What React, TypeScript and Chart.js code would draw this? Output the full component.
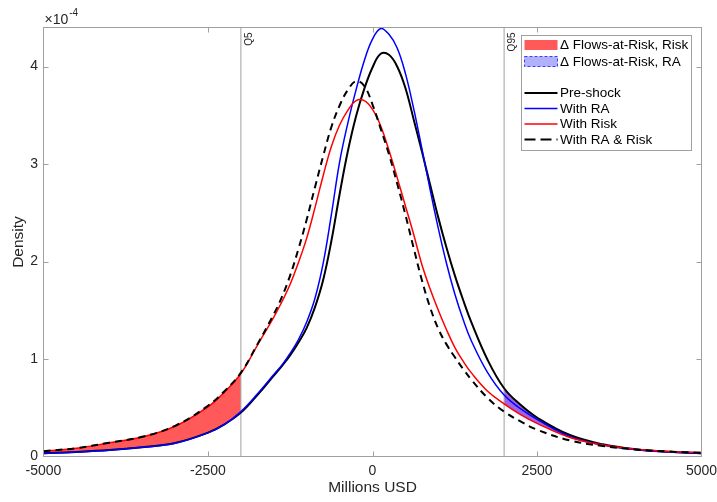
import React, { useEffect, useRef } from 'react';
import { Chart, registerables } from 'chart.js';
Chart.register(...registerables);

// ---------- data (density in units of 1e-4) ----------
const xValues = [-5000, -4500, -4000, -3500, -3000, -2500, -2250, -2000, -1750, -1500, -1375, -1250, -1125, -1000, -875, -750, -625, -500, -375, -250, -125, 0, 125, 250, 375, 500, 625, 750, 875, 1000, 1125, 1250, 1375, 1500, 1750, 2000, 2250, 2500, 3000, 3500, 4000, 4500, 5000];

const preShock = [0.034, 0.047, 0.066, 0.096, 0.138, 0.245, 0.330, 0.450, 0.630, 0.830, 0.930, 1.040, 1.170, 1.320, 1.530, 1.810, 2.210, 2.690, 3.130, 3.490, 3.770, 3.990, 4.130, 4.120, 4.000, 3.780, 3.460, 3.130, 2.790, 2.450, 2.140, 1.860, 1.610, 1.380, 0.990, 0.700, 0.530, 0.400, 0.220, 0.125, 0.075, 0.048, 0.033];

const withRA = [0.032, 0.045, 0.064, 0.094, 0.136, 0.242, 0.330, 0.460, 0.640, 0.840, 0.940, 1.060, 1.200, 1.380, 1.620, 1.980, 2.480, 3.020, 3.420, 3.760, 4.060, 4.280, 4.390, 4.330, 4.190, 3.930, 3.570, 3.160, 2.740, 2.340, 1.980, 1.670, 1.410, 1.190, 0.860, 0.630, 0.490, 0.380, 0.205, 0.118, 0.070, 0.046, 0.032];

const withRisk = [0.055, 0.085, 0.140, 0.200, 0.310, 0.510, 0.660, 0.850, 1.140, 1.430, 1.590, 1.770, 1.990, 2.240, 2.550, 2.880, 3.180, 3.400, 3.550, 3.650, 3.650, 3.560, 3.390, 3.140, 2.860, 2.570, 2.280, 1.970, 1.720, 1.500, 1.300, 1.120, 0.980, 0.860, 0.670, 0.540, 0.430, 0.340, 0.195, 0.118, 0.075, 0.052, 0.040];

const withRARisk = [0.055, 0.086, 0.142, 0.202, 0.315, 0.520, 0.670, 0.860, 1.150, 1.460, 1.640, 1.860, 2.130, 2.430, 2.760, 3.080, 3.380, 3.600, 3.760, 3.850, 3.800, 3.610, 3.360, 3.100, 2.800, 2.480, 2.140, 1.810, 1.530, 1.310, 1.150, 1.020, 0.900, 0.790, 0.600, 0.460, 0.360, 0.275, 0.165, 0.108, 0.072, 0.051, 0.038];

const xTickValues = [-5000, -2500, 0, 2500, 5000];
const yTickValues = [0, 1, 2, 3, 4];
const quantileX = [-2000, 2000];
const quantileLabels = ['Q5', 'Q95'];
const fillLegendLabels = ['\u0394 Flows-at-Risk, Risk', '\u0394 Flows-at-Risk, RA'];
const lineLegendLabels = ['Pre-shock', 'With RA', 'With Risk', 'With RA & Risk'];

// ---------- styles ----------
const FONT = '"Liberation Sans", Arial, Helvetica, sans-serif';
const AXIS_GRAY = 'rgb(160,160,160)';
const TEXT = '#262626';
const RED_FILL = 'rgba(255,0,0,0.65)';
const PURPLE_FILL = 'rgba(120,40,220,0.72)';
const BLUE_FILL = 'rgba(150,150,250,0.75)';
const Y_MAX = 4.4;

const pts = (ys: number[], keep?: (x: number) => boolean) =>
  xValues.map((x, i) => ({ x, y: ys[i] })).filter((p) => (keep ? keep(p.x) : true));

const decorPlugin = {
  id: 'matlabDecor',
  afterDraw(chart: any) {
    const { ctx, chartArea: a, scales } = chart;
    const xs = scales.x;
    const ys = scales.y;
    ctx.save();
    // quantile labels
    ctx.fillStyle = TEXT;
    ctx.font = `10px ${FONT}`;
    ctx.textBaseline = 'middle';
    ctx.textAlign = 'right';
    quantileX.forEach((q, i) => {
      const px = xs.getPixelForValue(q);
      ctx.save();
      ctx.translate(px + 8, a.top + 5);
      ctx.rotate(-Math.PI / 2);
      ctx.fillText(quantileLabels[i], 0, 0);
      ctx.restore();
    });
    // box
    ctx.strokeStyle = AXIS_GRAY;
    ctx.lineWidth = 1;
    ctx.strokeRect(a.left, a.top, a.right - a.left, a.bottom - a.top);
    // inward ticks
    const tl = 5;
    ctx.beginPath();
    xTickValues.forEach((v) => {
      const px = Math.round(xs.getPixelForValue(v)) + 0.5;
      if (px <= a.left + 1 || px >= a.right - 1) return;
      ctx.moveTo(px, a.bottom);
      ctx.lineTo(px, a.bottom - tl);
      ctx.moveTo(px, a.top);
      ctx.lineTo(px, a.top + tl);
    });
    yTickValues.forEach((v) => {
      const py = Math.round(ys.getPixelForValue(v)) + 0.5;
      if (py >= a.bottom - 1 || py <= a.top + 1) return;
      ctx.moveTo(a.left, py);
      ctx.lineTo(a.left + tl, py);
      ctx.moveTo(a.right, py);
      ctx.lineTo(a.right - tl, py);
    });
    ctx.stroke();
    // exponent label
    ctx.fillStyle = TEXT;
    ctx.textAlign = 'left';
    ctx.textBaseline = 'middle';
    ctx.font = `14px ${FONT}`;
    const base = '\u00D710';
    ctx.fillText(base, a.left + 1, 20);
    const bw = ctx.measureText(base).width;
    ctx.font = `10px ${FONT}`;
    ctx.fillText('-4', a.left + 1 + bw + 1, 13);

    // legend
    const lx = 521.5, ly = 35.5, lw = 170, lh = 115;
    ctx.fillStyle = '#ffffff';
    ctx.fillRect(lx, ly, lw, lh);
    ctx.strokeStyle = AXIS_GRAY;
    ctx.lineWidth = 1;
    ctx.setLineDash([]);
    ctx.strokeRect(lx, ly, lw, lh);
    const sx0 = 524.5, sx1 = 557.5, tx = 560;
    const fillRows = [45, 61.5];
    const lineRows = [93, 108.5, 124, 139.5];
    ctx.fillStyle = RED_FILL;
    ctx.fillRect(sx0, fillRows[0] - 5, sx1 - sx0, 10);
    ctx.fillStyle = BLUE_FILL;
    ctx.fillRect(sx0, fillRows[1] - 5, sx1 - sx0, 10);
    ctx.strokeStyle = 'rgb(60,60,255)';
    ctx.setLineDash([3, 2]);
    ctx.strokeRect(sx0, fillRows[1] - 5, sx1 - sx0, 10);
    ctx.setLineDash([]);
    const lineStyles = [
      { c: '#000000', w: 2, d: [] as number[] },
      { c: 'rgb(0,0,255)', w: 1.5, d: [] as number[] },
      { c: 'rgb(255,0,0)', w: 1.5, d: [] as number[] },
      { c: '#000000', w: 2, d: [11, 5] },
    ];
    lineRows.forEach((ry, i) => {
      const s = lineStyles[i];
      ctx.strokeStyle = s.c;
      ctx.lineWidth = s.w;
      ctx.setLineDash(s.d);
      ctx.beginPath();
      ctx.moveTo(sx0, ry);
      ctx.lineTo(sx1, ry);
      ctx.stroke();
    });
    ctx.setLineDash([]);
    ctx.fillStyle = '#000000';
    ctx.font = `13.5px ${FONT}`;
    ctx.textAlign = 'left';
    ctx.textBaseline = 'middle';
    fillRows.forEach((ry, i) => ctx.fillText(fillLegendLabels[i], tx, ry + 0.5));
    lineRows.forEach((ry, i) => ctx.fillText(lineLegendLabels[i], tx, ry + 0.5));
    ctx.restore();
  },
};

export default function App() {
  const ref = useRef<HTMLCanvasElement>(null);
  useEffect(() => {
    Chart.defaults.font.family = FONT;
    const curve = (label: string, ys: number[], color: string, width: number, dash: number[] = []) => ({
      label,
      data: pts(ys),
      borderColor: color,
      borderWidth: width,
      borderDash: dash,
      pointRadius: 0,
      fill: false,
      tension: 0.4,
    });
    const vline = (q: number) => ({
      label: 'q' + q,
      data: [{ x: q, y: 0 }, { x: q, y: Y_MAX }],
      borderColor: AXIS_GRAY,
      borderWidth: 1,
      pointRadius: 0,
      fill: false,
      tension: 0,
    });
    const fillPart = (ys: number[], keep: (x: number) => boolean, color: string | null) => ({
      label: 'fill',
      data: pts(ys, keep),
      borderWidth: 0,
      borderColor: 'rgba(0,0,0,0)',
      backgroundColor: color || 'rgba(0,0,0,0)',
      pointRadius: 0,
      fill: color ? '+1' : false,
      tension: 0.4,
    });
    const chart = new Chart(ref.current!, {
      type: 'line',
      data: {
        datasets: [
          curve('With RA & Risk', withRARisk, '#000000', 2, [7, 5]),
          curve('With Risk', withRisk, 'rgb(255,0,0)', 1.5),
          curve('With RA', withRA, 'rgb(0,0,255)', 1.5),
          curve('Pre-shock', preShock, '#000000', 2),
          vline(quantileX[0]),
          vline(quantileX[1]),
          fillPart(withRARisk, (x) => x <= quantileX[0], RED_FILL),
          fillPart(preShock, (x) => x <= quantileX[0], null),
          fillPart(preShock, (x) => x >= quantileX[1], PURPLE_FILL),
          fillPart(withRisk, (x) => x >= quantileX[1], null),
        ] as any,
      },
      options: {
        responsive: false,
        devicePixelRatio: 1,
        animation: false,
        layout: { padding: { left: 0, top: 27.5, right: 15.5, bottom: 0 } },
        plugins: {
          legend: { display: false },
          tooltip: { enabled: false },
          filler: { drawTime: 'beforeDatasetsDraw' },
        } as any,
        scales: {
          x: {
            type: 'linear',
            min: -5000,
            max: 5000,
            afterFit: (s: any) => { s.height = 45.5; s.paddingLeft = 0; s.paddingRight = 0; },
            grid: { display: false, drawTicks: false },
            border: { display: false },
            ticks: {
              stepSize: 2500,
              autoSkip: false,
              maxRotation: 0,
              padding: 6,
              color: TEXT,
              font: { size: 14 },
              callback: (v: any) => (xTickValues.includes(Number(v)) ? String(v) : ''),
            },
            title: {
              display: true,
              text: 'Millions USD',
              color: TEXT,
              font: { size: 15.5 },
              padding: { top: 0, bottom: 4.7 },
            },
          },
          y: {
            type: 'linear',
            min: 0,
            max: Y_MAX,
            afterFit: (s: any) => { s.width = 43.5; s.paddingTop = 0; s.paddingBottom = 0; },
            grid: { display: false, drawTicks: false },
            border: { display: false },
            ticks: {
              stepSize: 1,
              includeBounds: false,
              padding: 5.5,
              color: TEXT,
              font: { size: 14 },
              callback: (v: any) => (yTickValues.includes(Number(v)) ? String(v) : ''),
            },
            title: {
              display: true,
              text: 'Density',
              color: TEXT,
              font: { size: 15.5 },
              padding: { top: 9, bottom: 0 },
            },
          },
        } as any,
      },
      plugins: [decorPlugin],
    } as any);
    return () => chart.destroy();
  }, []);
  return (
    <div style={{ position: 'fixed', left: 0, top: 0, width: 717, height: 502, background: '#ffffff' }}>
      <canvas ref={ref} width={717} height={502} style={{ display: 'block', width: 717, height: 502 }} />
    </div>
  );
}
